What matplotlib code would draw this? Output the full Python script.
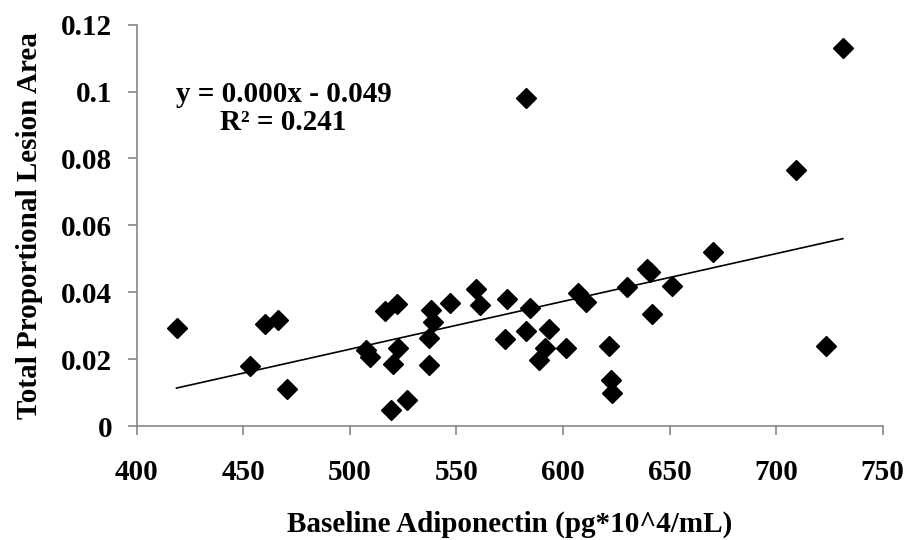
import numpy as np
import matplotlib
matplotlib.use("Agg")
import matplotlib.pyplot as plt

# adiponectin basal vs area de lesion por animal
adiponectina = [418.7, 453.1, 460.1, 466.4, 470.3, 507.8, 509.5, 516.6, 522.0, 519.3,
                522.8, 520.3, 527.0, 538.3, 538.8, 537.3, 537.2, 547.0, 559.0, 561.2,
                573.6, 572.9, 584.4, 582.8, 582.8, 593.4, 591.4, 588.9, 601.3, 607.0,
                610.8, 621.6, 622.7, 622.8, 630.0, 639.3, 641.0, 641.6, 651.2, 670.3,
                709.1, 723.5, 731.3]
lesion = [0.0292, 0.0179, 0.0305, 0.0317, 0.0110, 0.0228, 0.0205, 0.0345, 0.0365, 0.0048,
          0.0232, 0.0185, 0.0078, 0.0347, 0.0310, 0.0262, 0.0182, 0.0367, 0.0410, 0.0362,
          0.0381, 0.0260, 0.0352, 0.0285, 0.0981, 0.0289, 0.0234, 0.0198, 0.0232, 0.0397,
          0.0372, 0.0240, 0.0137, 0.0099, 0.0415, 0.0470, 0.0461, 0.0335, 0.0419, 0.0521,
          0.0765, 0.0239, 0.1131]

x_ticks = [400, 450, 500, 550, 600, 650, 700, 750]
y_ticks = [0, 0.02, 0.04, 0.06, 0.08, 0.1, 0.12]
y_tick_labels = ["0", "0.02", "0.04", "0.06", "0.08", "0.1", "0.12"]

plt.rcParams['font.family'] = ['Liberation Serif', 'DejaVu Serif']
plt.rcParams['font.weight'] = 'bold'

x = np.array(adiponectina)
y = np.array(lesion)

# recta de tendencia (minimos cuadrados), de punta a punta de los datos
pendiente, ordenada = np.polyfit(x, y, 1)
x_linea = np.array([x.min(), x.max()])
y_linea = pendiente * x_linea + ordenada

fig = plt.figure(figsize=(9.11, 5.40), dpi=100)
ax = fig.add_axes([0.150, 0.2111, 0.819, 0.7432])

ax.plot(x, y, linestyle='none', marker='D', markersize=10.4, color='black', zorder=3)
ax.plot(x_linea, y_linea, color='black', linewidth=1.2, zorder=2)

ax.set_xlim(400, 750)
ax.set_ylim(0, 0.12)
ax.set_xticks(x_ticks)
ax.set_yticks(y_ticks)
ax.set_yticklabels(y_tick_labels)

gris = '#868686'
for lado in ['top', 'right']:
    ax.spines[lado].set_visible(False)
for lado in ['left', 'bottom']:
    ax.spines[lado].set_color(gris)
    ax.spines[lado].set_linewidth(1.2)
ax.tick_params(axis='both', direction='out', length=6.5, width=1.2, color=gris,
               labelsize=21)
ax.tick_params(axis='x', pad=17)
ax.tick_params(axis='y', pad=11)
for etiqueta in ax.get_xticklabels() + ax.get_yticklabels():
    etiqueta.set_fontweight('bold')

ax.set_xlabel('Baseline Adiponectin (pg*10^4/mL)', fontsize=21, fontweight='bold', labelpad=18)
ax.set_ylabel('Total Proportional Lesion Area', fontsize=21, fontweight='bold', labelpad=13)

ax.text(0.197, 0.79, 'y = 0.000x - 0.049\nR² = 0.241', transform=ax.transAxes,
        ha='center', va='center', fontsize=21, fontweight='bold', linespacing=1.05)

fig.savefig('out.png', dpi=100)
plt.close(fig)
